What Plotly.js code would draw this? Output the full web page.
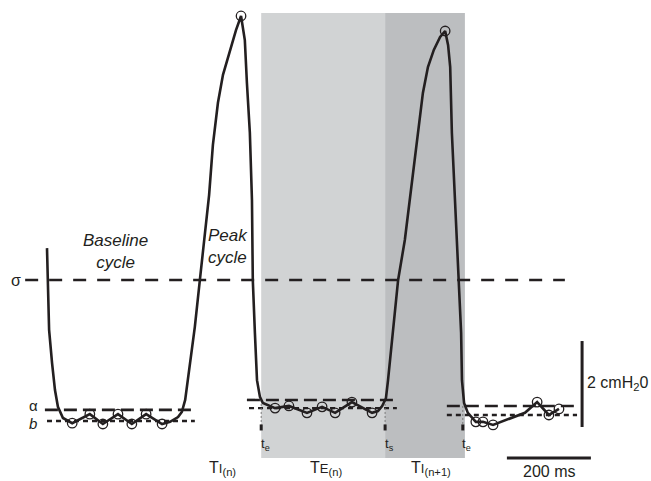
<!DOCTYPE html>
<html><head><meta charset="utf-8">
<script src="https://cdn.plot.ly/plotly-3.0.1.min.js"></script>
<style>html,body{margin:0;padding:0;background:#fff}#chart{width:651px;height:481px}</style>
</head><body><div id="chart"></div>
<script>
// time in ms, pressure in cmH2O (relative to baseline b of the first cycle)
const timeMs = [0,2,5,12,19,26,38,60,102,133,169,202,236,274,293,312,321,329,340,352,364,376,386,395,407,419,436,450,462,
  471,476,483,488,490,495,500,507,514,543,576,619,655,686,726,774,788,798,807,812,824,836,852,864,871,883,895,907,921,936,948,
  955,960,964,971,979,986,988,993,1002,1021,1038,1062,1138,1167,1195,1219];
const pressure = [4.02,3.28,2.12,1.35,0.72,0.33,0.07,-0.05,0.16,-0.07,0.16,-0.07,0.16,-0.07,-0.02,0.09,0.21,0.49,1.26,2.19,3.28,4.37,5.26,6.42,7.40,8.05,8.63,9.09,9.42,
  8.86,7.86,6.70,5.14,3.28,2.05,0.95,0.56,0.42,0.30,0.35,0.19,0.33,0.19,0.44,0.19,0.23,0.35,0.53,0.95,2.05,3.28,4.21,5.14,5.67,6.70,7.63,8.23,8.63,8.93,9.07,
  8.74,8.23,6.70,5.14,3.28,2.05,0.95,0.42,0.19,-0.02,-0.02,-0.09,0.19,0.44,0.14,0.28];
const circleTime = [60,102,133,169,202,236,274,462,543,576,619,655,686,726,774,948,1021,1038,1062,1167,1195,1219];
const circlePressure = [-0.05,0.16,-0.07,0.16,-0.07,0.16,-0.07,9.42,0.30,0.35,0.19,0.33,0.19,0.44,0.19,9.07,-0.02,-0.02,-0.09,0.44,0.14,0.28];

const sigmaLevel = 3.28, sigmaSpan = [-52, 1233];
const alphaLevels = [0.26, 0.49, 0.35], alphaStart = [-5, 476, 952], alphaEnd = [348, 833, 1262];
const bLevels = [0.0, 0.30, 0.14], bStart = [0, 481, 952], bEnd = [352, 833, 1262];

const phaseEdges = [510, 805, 995];   // TE(n) from 510 to 805, TI(n+1) from 805 to 995
const phaseTop = 9.49, phaseBottom = -0.86;

const eventTimes = [510, 805, 990];
const eventSubs = ['e', 's', 'e'];
const eventTop = [0.49, 0.49, 0.35];
const tickTop = -0.08, tickBottom = -0.22;

const phaseLabels = ["T<span style='font-size:13px'>I</span><sub>(n)</sub>",
                     "T<span style='font-size:13px'>E</span><sub>(n)</sub>",
                     "T<span style='font-size:13px'>I</span><sub>(n+1)</sub>"];
const phaseLabelX = [381, 621, 862];

const scaleBarPressure = [-0.14, 1.86], scaleBarPressureT = 1274;   // 2 cmH2O
const scaleBarTime = [1095, 1295], scaleBarTimeP = -0.86;          // 200 ms

const INK = '#231f20';
const FONT = 'Liberation Sans, Arial, sans-serif';

const traces = [];
// threshold lines
traces.push({x: sigmaSpan, y: [sigmaLevel, sigmaLevel], mode: 'lines',
  line: {color: INK, width: 2.6, dash: '13px,11px'}, hoverinfo: 'skip'});
for (let i = 0; i < 3; i++) {
  traces.push({x: [alphaStart[i], alphaEnd[i]], y: [alphaLevels[i], alphaLevels[i]], mode: 'lines',
    line: {color: INK, width: 2.6, dash: '13px,6px'}, hoverinfo: 'skip'});
  traces.push({x: [bStart[i], bEnd[i]], y: [bLevels[i], bLevels[i]], mode: 'lines',
    line: {color: INK, width: 2.4, dash: '5px,4px'}, hoverinfo: 'skip'});
}
// event markers
for (let i = 0; i < 3; i++) {
  traces.push({x: [eventTimes[i], eventTimes[i]], y: [eventTop[i], tickTop], mode: 'lines',
    line: {color: '#777', width: 1, dash: '2px,2px'}, hoverinfo: 'skip'});
  traces.push({x: [eventTimes[i], eventTimes[i]], y: [tickTop, tickBottom], mode: 'lines',
    line: {color: INK, width: 3}, hoverinfo: 'skip'});
}
// pressure trace
traces.push({x: timeMs, y: pressure, mode: 'lines', line: {color: INK, width: 2.6}, hoverinfo: 'skip'});
traces.push({x: circleTime, y: circlePressure, mode: 'markers',
  marker: {symbol: 'circle-open', size: 9.5, color: INK, line: {width: 1.3, color: INK}}, hoverinfo: 'skip'});
// scale bars
traces.push({x: [scaleBarPressureT, scaleBarPressureT], y: scaleBarPressure, mode: 'lines',
  line: {color: INK, width: 3}, hoverinfo: 'skip'});
traces.push({x: scaleBarTime, y: [scaleBarTimeP, scaleBarTimeP], mode: 'lines',
  line: {color: INK, width: 3}, hoverinfo: 'skip'});

const shapes = [
  {type: 'rect', xref: 'x', yref: 'y', x0: phaseEdges[0], x1: phaseEdges[1], y0: phaseBottom, y1: phaseTop,
   fillcolor: '#d1d3d4', line: {width: 0}, layer: 'below'},
  {type: 'rect', xref: 'x', yref: 'y', x0: phaseEdges[1], x1: phaseEdges[2], y0: phaseBottom, y1: phaseTop,
   fillcolor: '#bcbec0', line: {width: 0}, layer: 'below'}
];

const ann = (x, y, text, size, opts) => Object.assign({x, y, xref: 'x', yref: 'y', text, showarrow: false,
  font: {family: FONT, size, color: INK}, xanchor: 'center', yanchor: 'middle'}, opts || {});

const annotations = [
  ann(164, 3.95, '<i>Baseline</i><br><i>cycle</i>', 17),
  ann(431, 4.07, '<i>Peak</i><br><i>cycle</i>', 17),
  ann(-74, 3.26, 'σ', 16),
  ann(-31, 0.35, 'α', 15),
  ann(-33, -0.05, '<i>b</i>', 15),
  ann(1281, 0.88, '2 cmH<sub>2</sub>0', 16, {xanchor: 'left'}),
  ann(1195, -1.17, '200 ms', 16)
];
for (let i = 0; i < 3; i++) {
  annotations.push(ann(phaseLabelX[i], -1.1, phaseLabels[i], 16, {xanchor: 'left'}));
  annotations.push(ann(eventTimes[i] - 6, -0.55, 't<sub>' + eventSubs[i] + '</sub>', 13, {xanchor: 'left'}));
}

const layout = {
  width: 651, height: 481,
  margin: {l: 0, r: 0, t: 0, b: 0},
  paper_bgcolor: '#ffffff', plot_bgcolor: '#ffffff',
  showlegend: false,
  xaxis: {range: [-111.9, 1438.1], visible: false},
  yaxis: {range: [-1.395, 9.791], visible: false},
  shapes, annotations
};
Plotly.newPlot('chart', traces, layout, {displayModeBar: false, staticPlot: true});
</script></body></html>
